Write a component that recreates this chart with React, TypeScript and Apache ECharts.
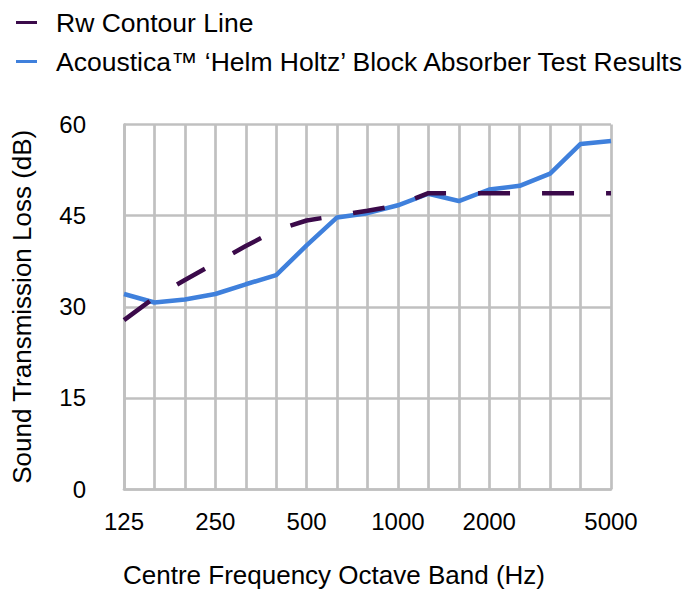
import React, { useEffect, useRef } from "react";
import * as echarts from "echarts";

const categories = ["125", "160", "200", "250", "315", "400", "500", "630", "800", "1000", "1250", "1600", "2000", "2500", "3150", "4000", "5000"];
const rwContour = [27.8, 31.5, 34.4, 37.2, 40.0, 42.6, 44.2, 45.0, 45.8, 46.7, 48.7, 48.7, 48.7, 48.7, 48.7, 48.7, 48.7];
const testResults = [32.1, 30.7, 31.2, 32.1, 33.7, 35.2, 40.1, 44.7, 45.4, 46.7, 48.6, 47.4, 49.3, 49.9, 51.9, 56.8, 57.3];
const shownXLabels = ["125", "250", "500", "1000", "2000", "5000"];
const yMin = 0;
const yMax = 60;
const yStep = 15;

const rwName = "Rw Contour Line";
const testName = "Acoustica™ ‘Helm Holtz’ Block Absorber Test Results";

const FONT = "'Liberation Sans', Arial, Helvetica, sans-serif";
const GRID = "#c0c0c0";

export default function App() {
  const ref = useRef<HTMLDivElement>(null);
  useEffect(() => {
    document.body.style.margin = "0";
    if (!ref.current) return;
    const chart = echarts.init(ref.current, undefined, { renderer: "svg" });
    chart.setOption({
      animation: false,
      backgroundColor: "#ffffff",
      textStyle: { fontFamily: FONT },
      legend: {
        orient: "vertical",
        left: 11,
        top: 4,
        icon: "rect",
        itemWidth: 21,
        itemHeight: 3,
        itemGap: 12,
        data: [rwName, testName],
        textStyle: { fontSize: 26.5, color: "#000", fontFamily: FONT, lineHeight: 26.5, padding: [0, 0, 0, 14] },
      },
      grid: { left: 124, right: 88, top: 124.5, bottom: 102.5, containLabel: false },
      xAxis: {
        type: "category",
        data: categories,
        boundaryGap: false,
        name: "Centre Frequency Octave Band (Hz)",
        nameLocation: "middle",
        nameGap: 73,
        nameTextStyle: { fontSize: 26, color: "#000", fontFamily: FONT, padding: [0, 67, 0, 0] },
        axisLine: { show: true, lineStyle: { color: GRID, width: 2.7 } },
        axisTick: { show: false },
        splitLine: { show: true, interval: 0, lineStyle: { color: GRID, width: 2.7 } },
        axisLabel: {
          interval: (_i: number, v: string) => shownXLabels.includes(v),
          margin: 20,
          fontSize: 24,
          color: "#000",
          fontFamily: FONT,
        },
      },
      yAxis: {
        type: "value",
        min: yMin,
        max: yMax,
        interval: yStep,
        name: "Sound Transmission Loss (dB)",
        nameLocation: "middle",
        nameGap: 89,
        nameTextStyle: { fontSize: 26, color: "#000", fontFamily: FONT },
        axisLine: { show: true, lineStyle: { color: GRID, width: 2.7 } },
        axisTick: { show: false },
        splitLine: { show: true, lineStyle: { color: GRID, width: 2.7 } },
        axisLabel: { margin: 38, fontSize: 24, color: "#000", fontFamily: FONT },
      },
      series: [
        {
          name: testName,
          type: "line",
          data: testResults,
          symbol: "none",
          showSymbol: false,
          lineStyle: { color: "#3f80dc", width: 4.5 },
          itemStyle: { color: "#3f80dc" },
          z: 2,
        },
        {
          name: rwName,
          type: "line",
          data: rwContour,
          symbol: "none",
          showSymbol: false,
          lineStyle: { color: "#3b0a4a", width: 4.5, type: [32, 32] },
          itemStyle: { color: "#3b0a4a" },
          z: 3,
        },
      ],
    });
    return () => chart.dispose();
  }, []);
  return <div ref={ref} style={{ width: 699, height: 593 }} />;
}
